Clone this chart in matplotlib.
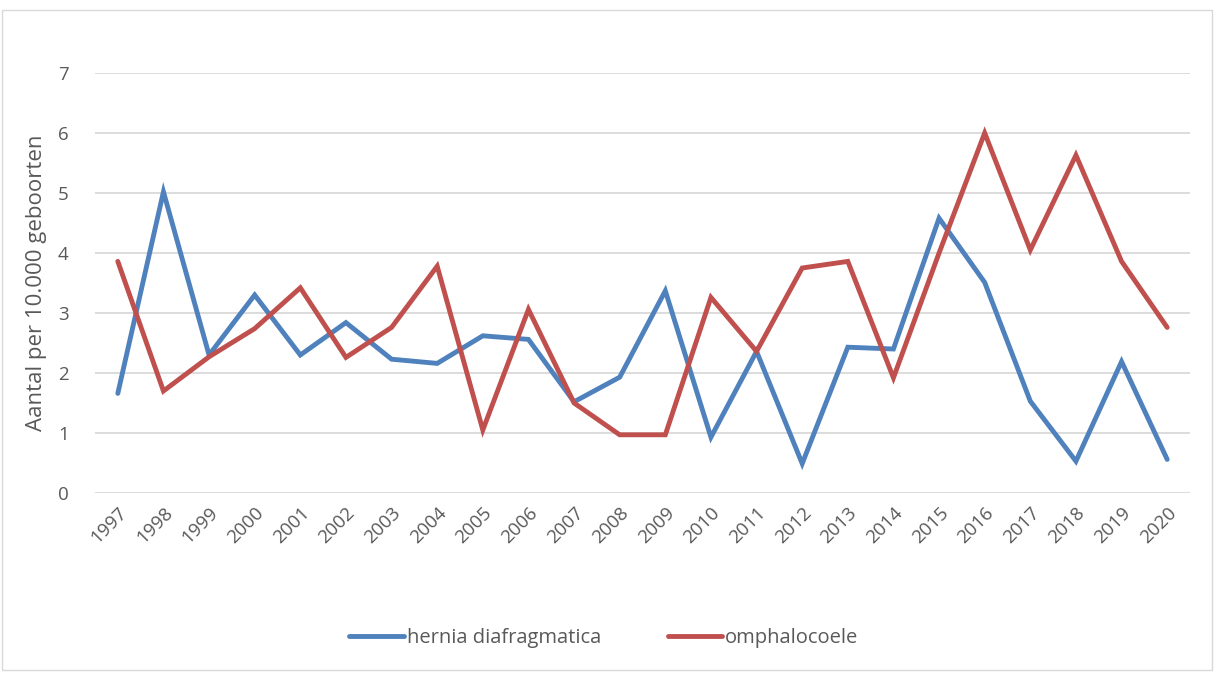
import matplotlib
matplotlib.use("Agg")
import matplotlib.pyplot as plt
from matplotlib.patches import Rectangle

years = [str(y) for y in range(1997, 2021)]
hernia = [1.66, 5.02, 2.30, 3.30, 2.30, 2.84, 2.23, 2.16, 2.62, 2.56, 1.52, 1.93,
          3.37, 0.93, 2.36, 0.49, 2.43, 2.40, 4.58, 3.51, 1.53, 0.53, 2.19, 0.56]
omphalo = [3.86, 1.70, 2.27, 2.74, 3.42, 2.26, 2.76, 3.78, 1.05, 3.06, 1.50, 0.97,
           0.97, 3.26, 2.36, 3.75, 3.86, 1.92, 4.00, 6.00, 4.05, 5.63, 3.86, 2.76]
series_names = ["hernia diafragmatica", "omphalocoele"]
colors = ["#4F81BD", "#C0504D"]
yticks = [0, 1, 2, 3, 4, 5, 6, 7]

plt.rcParams['font.family'] = ['Open Sans', 'DejaVu Sans']
txt = "#595959"

fig = plt.figure(figsize=(12.15, 6.73), dpi=100)
fig.patches.append(Rectangle((2/1215, 3/673), 1210/1215, 660/673, transform=fig.transFigure,
                             fill=False, edgecolor="#D9D9D9", linewidth=1))
ax = fig.add_axes([95/1215, 1 - 493/673, 1095/1215, 420/673])

x = list(range(len(years)))
for vals, name, c in zip([hernia, omphalo], series_names, colors):
    ax.plot(x, vals, color=c, linewidth=3.5, solid_capstyle='round',
            solid_joinstyle='miter', label=name)

ax.set_xlim(-0.5, len(years) - 0.5)
ax.set_ylim(0, 7)
ax.set_yticks(yticks)
ax.set_yticklabels([str(v) for v in yticks], fontsize=13.5, color=txt)
ax.set_xticks(x)
ax.set_xticklabels(years, rotation=45, ha='right', va='top', rotation_mode='anchor',
                   fontsize=13.5, color=txt)
ax.tick_params(axis='both', length=0)
ax.tick_params(axis='y', pad=19)
ax.tick_params(axis='x', pad=8)
ax.grid(axis='y', color="#D9D9D9", linewidth=1.3)
ax.set_axisbelow(True)
for s in ax.spines.values():
    s.set_visible(False)
ax.set_ylabel("Aantal per 10.000 geboorten", fontsize=16, color=txt, labelpad=8)

leg = fig.legend(loc='center', bbox_to_anchor=(0.497, 1 - 638/673), ncol=2, frameon=False,
                 fontsize=14.5, labelcolor=txt, handlelength=2.7, handletextpad=0.15,
                 columnspacing=3.3)

fig.savefig("out.png", dpi=100)
